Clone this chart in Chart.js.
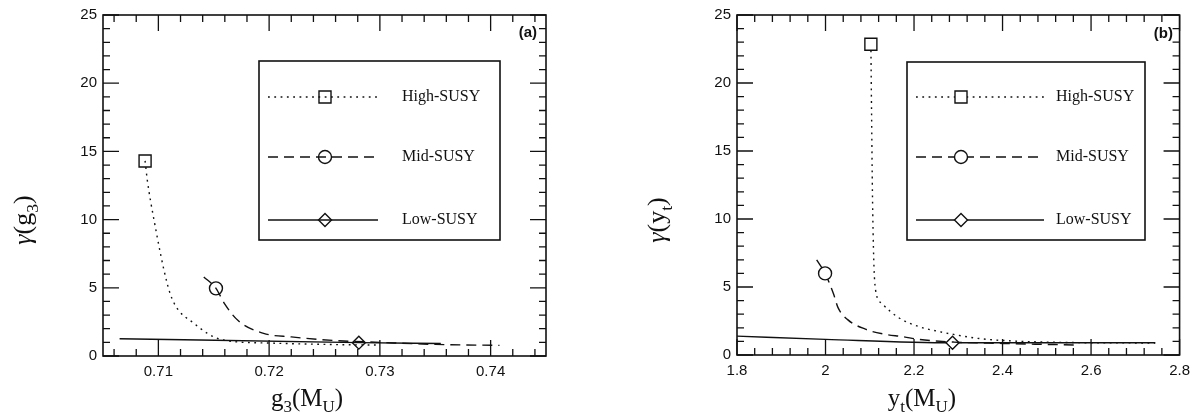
<!DOCTYPE html>
<html>
<head>
<meta charset="utf-8">
<script src="https://cdn.jsdelivr.net/npm/chart.js@4.4.1/dist/chart.umd.min.js"></script>
<style>
  body { margin: 0; background: #fff; }
  #wrap { position: relative; width: 1197px; height: 413px; }
  .panel { position: absolute; top: 0; height: 413px; }
  #pa { left: 0; width: 598px; }
  #pb { left: 598px; width: 599px; }
</style>
</head>
<body>
<div id="wrap">
  <div class="panel" id="pa"><canvas id="chartA"></canvas></div>
  <div class="panel" id="pb"><canvas id="chartB"></canvas></div>
</div>
<script>
var seriesNames = ['High-SUSY', 'Mid-SUSY', 'Low-SUSY'];

// (a) gamma(g3) against g3(M_U)
var aHighX = [0.7088, 0.7090, 0.7096, 0.7108, 0.7114, 0.7132, 0.7157, 0.7200, 0.7250, 0.7298];
var aHighY = [14.3, 12.9, 10.0, 5.3, 3.9, 2.4, 1.2, 0.95, 0.85, 0.8];
var aMidX = [0.7141, 0.7152, 0.7160, 0.7172, 0.7195, 0.7220, 0.7258, 0.7300, 0.7350, 0.7408];
var aMidY = [5.8, 4.96, 3.8, 2.6, 1.66, 1.4, 1.14, 1.0, 0.85, 0.78];
var aLowX = [0.7065, 0.7281, 0.7355];
var aLowY = [1.27, 0.98, 0.92];
var aTicksX = [0.71, 0.72, 0.73, 0.74];
var aTicksY = [0, 5, 10, 15, 20, 25];

// (b) gamma(yt) against yt(M_U)
var bHighX = [2.1025, 2.104, 2.106, 2.109, 2.113, 2.127, 2.165, 2.21, 2.26, 2.30, 2.35, 2.43, 2.55, 2.745];
var bHighY = [22.85, 18, 12, 7, 4.8, 3.8, 2.75, 2.1, 1.7, 1.45, 1.2, 1.02, 0.92, 0.88];
var bMidX = [1.980, 1.999, 2.018, 2.028, 2.05, 2.09, 2.13, 2.176, 2.21, 2.29, 2.40, 2.57];
var bMidY = [7.0, 6.0, 4.5, 3.5, 2.6, 1.9, 1.55, 1.34, 1.15, 0.95, 0.85, 0.73];
var bLowX = [1.8, 2.0, 2.287, 2.745];
var bLowY = [1.39, 1.15, 0.9, 0.9];
var bTicksX = [1.8, 2, 2.2, 2.4, 2.6, 2.8];
var bTicksY = [0, 5, 10, 15, 20, 25];

var ink = '#111';
var lineStyles = [
  { dash: [1.8, 4.5], point: 'rect', r: 8.5 },
  { dash: [10, 6], point: 'circle', r: 6.5 },
  { dash: [], point: 'rectRot', r: 6.5 }
];

function buildSets(xsList, ysList, marks, fill) {
  return seriesNames.map(function (name, k) {
    var st = lineStyles[k];
    return {
      label: name,
      data: xsList[k].map(function (x, i) { return { x: x, y: ysList[k][i] }; }),
      showLine: true,
      borderColor: ink,
      borderWidth: 1.4,
      borderDash: st.dash,
      cubicInterpolationMode: 'monotone',
      pointStyle: st.point,
      markerRadius: st.r,
      pointRadius: function (c) { return c.dataIndex === marks[k] ? st.r : 0; },
      pointHoverRadius: 0,
      pointBorderColor: ink,
      pointBackgroundColor: fill,
      pointBorderWidth: 1.4
    };
  });
}

function drawMarker(ctx, style, r, x, y, fill) {
  ctx.beginPath();
  if (style === 'rect') {
    var s = r * Math.SQRT1_2;
    ctx.rect(x - s, y - s, 2 * s, 2 * s);
  } else if (style === 'circle') {
    ctx.arc(x, y, r, 0, Math.PI * 2);
  } else {
    ctx.moveTo(x - r, y); ctx.lineTo(x, y - r); ctx.lineTo(x + r, y); ctx.lineTo(x, y + r); ctx.closePath();
  }
  ctx.fillStyle = fill;
  ctx.fill();
  ctx.lineWidth = 1.4;
  ctx.stroke();
}

// box with inward ticks on all four sides
var frameTicks = {
  id: 'frameTicks',
  afterDatasetsDraw: function (chart, args, o) {
    var ctx = chart.ctx, a = chart.chartArea;
    ctx.save();
    ctx.strokeStyle = ink;
    ctx.lineWidth = 1.6;
    ctx.strokeRect(a.left, a.top, a.right - a.left, a.bottom - a.top);
    ctx.lineWidth = 1.3;
    ctx.beginPath();
    ['x', 'y'].forEach(function (id) {
      var s = chart.scales[id], m = o[id];
      var i0 = Math.ceil(s.min / m.minor - 1e-6), i1 = Math.floor(s.max / m.minor + 1e-6);
      for (var i = i0; i <= i1; i++) {
        var v = i * m.minor, q = v / m.major;
        var len = Math.abs(q - Math.round(q)) < 1e-6 ? 16 : 7;
        var p = s.getPixelForValue(v);
        if (id === 'x') {
          ctx.moveTo(p, a.bottom); ctx.lineTo(p, a.bottom - len);
          ctx.moveTo(p, a.top); ctx.lineTo(p, a.top + len);
        } else {
          ctx.moveTo(a.left, p); ctx.lineTo(a.left + len, p);
          ctx.moveTo(a.right, p); ctx.lineTo(a.right - len, p);
        }
      }
    });
    ctx.stroke();
    ctx.restore();
  }
};

var boxLegend = {
  id: 'boxLegend',
  afterDatasetsDraw: function (chart, args, o) {
    var ctx = chart.ctx, b = o.box;
    ctx.save();
    ctx.strokeStyle = ink;
    ctx.lineWidth = 1.6;
    ctx.strokeRect(b[0], b[1], b[2] - b[0], b[3] - b[1]);
    chart.data.datasets.forEach(function (ds, k) {
      var y = o.rows[k];
      ctx.strokeStyle = ink;
      ctx.lineWidth = ds.borderWidth;
      ctx.setLineDash(ds.borderDash);
      ctx.beginPath(); ctx.moveTo(o.lineFrom, y); ctx.lineTo(o.lineTo, y); ctx.stroke();
      ctx.setLineDash([]);
      drawMarker(ctx, ds.pointStyle, ds.markerRadius, o.markerX, y, o.fill);
      ctx.fillStyle = ink;
      ctx.font = '16px "Liberation Serif"';
      ctx.textAlign = 'left';
      ctx.textBaseline = 'middle';
      ctx.fillText(ds.label, o.textX, y);
    });
    ctx.restore();
  }
};

function drawRich(ctx, parts, x, y, size, rotate) {
  function fontFor(p) {
    var sz = p[1] === 's' ? size * 0.68 : size;
    return (p[1] === 'i' ? 'italic ' : '') + sz + 'px "Liberation Serif"';
  }
  var w = 0;
  parts.forEach(function (p) { ctx.font = fontFor(p); w += ctx.measureText(p[0]).width; });
  ctx.save();
  ctx.translate(x, y);
  if (rotate) ctx.rotate(-Math.PI / 2);
  ctx.fillStyle = ink;
  ctx.textAlign = 'left';
  ctx.textBaseline = 'alphabetic';
  var cx = -w / 2;
  parts.forEach(function (p) {
    ctx.font = fontFor(p);
    ctx.fillText(p[0], cx, p[1] === 's' ? size * 0.25 : 0);
    cx += ctx.measureText(p[0]).width;
  });
  ctx.restore();
}

var annot = {
  id: 'annot',
  afterDraw: function (chart, args, o) {
    var ctx = chart.ctx;
    drawRich(ctx, o.xTitle, o.xAt[0], o.xAt[1], 25, false);
    drawRich(ctx, o.yTitle, o.yAt[0], o.yAt[1], 26, true);
    ctx.save();
    ctx.fillStyle = ink;
    ctx.font = 'bold 15px "Liberation Sans"';
    ctx.textAlign = 'right';
    ctx.textBaseline = 'middle';
    ctx.fillText(o.tag, o.tagAt[0], o.tagAt[1]);
    ctx.restore();
  }
};

function makeChart(id, sets, xMin, xMax, xTicks, yTicks, cfg) {
  var tickFont = { family: 'Liberation Sans', size: 15 };
  return new Chart(document.getElementById(id), {
    type: 'scatter',
    data: { datasets: sets },
    options: {
      responsive: true,
      maintainAspectRatio: false,
      animation: false,
      events: [],
      layout: { padding: cfg.pad },
      plugins: {
        legend: { display: false },
        tooltip: { enabled: false },
        frameTicks: cfg.ticks,
        boxLegend: cfg.legend,
        annot: cfg.annot
      },
      scales: {
        x: {
          type: 'linear', min: xMin, max: xMax,
          grid: { display: false, drawTicks: false },
          border: { display: false },
          afterBuildTicks: function (s) { s.ticks = xTicks.map(function (v) { return { value: v }; }); },
          afterFit: function (s) { s.height = cfg.xHeight; },
          ticks: { padding: 7, color: ink, font: tickFont, maxRotation: 0, autoSkip: false,
                   callback: function (v) { return String(v); } }
        },
        y: {
          type: 'linear', min: 0, max: 25,
          grid: { display: false, drawTicks: false },
          border: { display: false },
          afterBuildTicks: function (s) { s.ticks = yTicks.map(function (v) { return { value: v }; }); },
          afterFit: function (s) { s.width = cfg.yWidth; },
          ticks: { padding: 6, color: ink, font: tickFont, autoSkip: false,
                   callback: function (v) { return String(v); } }
        }
      }
    },
    plugins: [frameTicks, boxLegend, annot]
  });
}

makeChart('chartA',
  buildSets([aHighX, aMidX, aLowX], [aHighY, aMidY, aLowY], [0, 1, 1], 'rgba(0,0,0,0)'),
  0.705, 0.745, aTicksX, aTicksY, {
    pad: { left: 0, right: 52, top: 15, bottom: 0 },
    yWidth: 103, xHeight: 57,
    ticks: { x: { minor: 0.002, major: 0.01 }, y: { minor: 1, major: 5 } },
    legend: { box: [259, 61, 500, 240], rows: [97, 157, 220], lineFrom: 268, lineTo: 378,
              markerX: 325, textX: 402, fill: 'rgba(0,0,0,0)' },
    annot: {
      xTitle: [['g', ''], ['3', 's'], ['(M', ''], ['U', 's'], [')', '']], xAt: [307, 406],
      yTitle: [['\u03b3', 'i'], ['(g', ''], ['3', 's'], [')', '']], yAt: [31, 220],
      tag: '(a)', tagAt: [537, 33]
    }
  });

makeChart('chartB',
  buildSets([bHighX, bMidX, bLowX], [bHighY, bMidY, bLowY], [0, 1, 2], '#fff'),
  1.8, 2.8, bTicksX, bTicksY, {
    pad: { left: 0, right: 17, top: 14, bottom: 0 },
    yWidth: 139, xHeight: 58,
    ticks: { x: { minor: 0.04, major: 0.2 }, y: { minor: 1, major: 5 } },
    legend: { box: [309, 62, 547, 240], rows: [97, 157, 220], lineFrom: 318, lineTo: 446,
              markerX: 363, textX: 458, fill: '#fff' },
    annot: {
      xTitle: [['y', ''], ['t', 's'], ['(M', ''], ['U', 's'], [')', '']], xAt: [324, 406],
      yTitle: [['\u03b3', 'i'], ['(y', ''], ['t', 's'], [')', '']], yAt: [67, 220],
      tag: '(b)', tagAt: [575, 34]
    }
  });
</script>
</body>
</html>
